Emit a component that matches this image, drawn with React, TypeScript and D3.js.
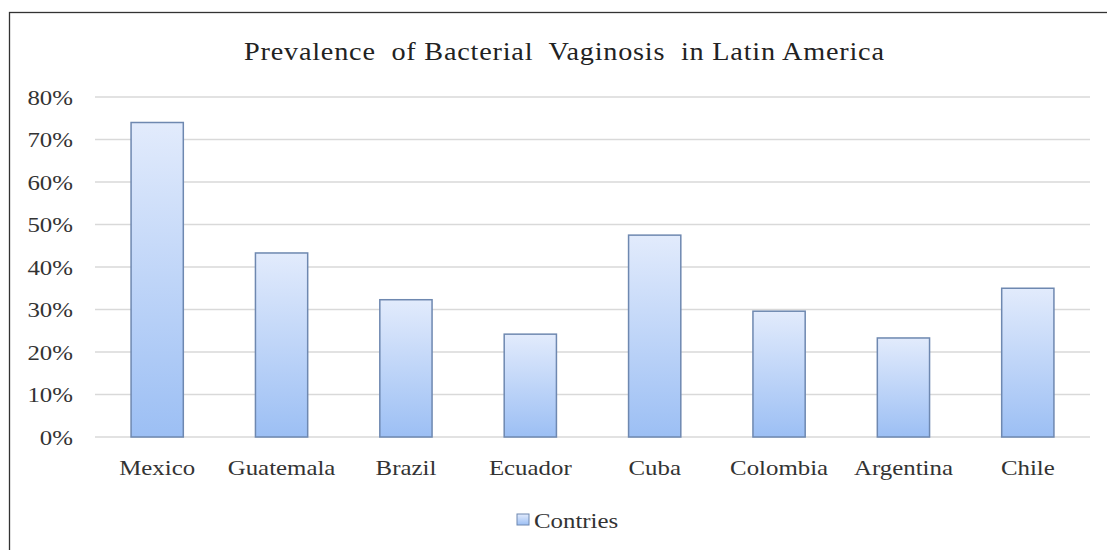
import React from "react";
import * as d3 from "d3";

const categories = ["Mexico", "Guatemala", "Brazil", "Ecuador", "Cuba", "Colombia", "Argentina", "Chile"];
const values = [0.74, 0.433, 0.323, 0.242, 0.475, 0.296, 0.233, 0.35];
const yTicks = [0, 0.1, 0.2, 0.3, 0.4, 0.5, 0.6, 0.7, 0.8];
const title = "Prevalence  of Bacterial  Vaginosis  in Latin America";
const legendLabel = "Contries";

const W = 1107;
const H = 550;
const M = { left: 95, right: 17, top: 97, bottom: 113 };
const SX = 1.13;

export default function App() {
  const x = d3.scaleBand().domain(categories).range([M.left, W - M.right]).paddingInner(0.58).paddingOuter(0.29);
  const y = d3.scaleLinear().domain([0, 0.8]).range([H - M.bottom, M.top]);
  const fmt = d3.format(".0%");
  const fontStyle: React.CSSProperties = { fontFamily: "'Liberation Serif', 'Times New Roman', serif", whiteSpace: "pre" };
  return (
    <svg width={W} height={H} style={{ position: "absolute", left: 0, top: 0, background: "#fff" }}>
      <defs>
        <linearGradient id="barGrad" x1="0" y1="0" x2="0" y2="1">
          <stop offset="0%" stopColor="#e2ebfc" />
          <stop offset="100%" stopColor="#9cbff4" />
        </linearGradient>
      </defs>
      <rect x={9.5} y={12.5} width={W + 10} height={H + 10} fill="#fff" stroke="#333" strokeWidth={1.3} />
      <g transform={`translate(564,60) scale(${SX},1)`}>
        <text x={0} y={0} textAnchor="middle" style={fontStyle} fontSize={25} fill="#222" textLength={640 / SX} lengthAdjust="spacing">
          {title}
        </text>
      </g>
      {yTicks.map((t) => (
        <g key={t}>
          <line x1={M.left} x2={W - M.right} y1={y(t)} y2={y(t)} stroke="#d9d9d9" strokeWidth={1.5} />
          <g transform={`translate(73,${y(t)}) scale(${SX},1)`}>
            <text x={0} y={0} dy="0.35em" textAnchor="end" style={fontStyle} fontSize={22} fill="#333">
              {fmt(t)}
            </text>
          </g>
        </g>
      ))}
      {categories.map((c, i) => (
        <g key={c}>
          <rect
            x={x(c)!}
            y={y(values[i])}
            width={x.bandwidth()}
            height={y(0) - y(values[i])}
            fill="url(#barGrad)"
            stroke="#6e88b0"
            strokeWidth={1.5}
          />
          <g transform={`translate(${x(c)! + x.bandwidth() / 2},467) scale(${SX},1)`}>
            <text x={0} y={0} dy="0.35em" textAnchor="middle" style={fontStyle} fontSize={22} fill="#333">
              {c}
            </text>
          </g>
        </g>
      ))}
      <rect x={517} y={514} width={12} height={11} fill="url(#barGrad)" stroke="#6e88b0" strokeWidth={1} />
      <g transform={`translate(534,520) scale(${SX},1)`}>
        <text x={0} y={0} dy="0.35em" style={fontStyle} fontSize={22} fill="#333">
          {legendLabel}
        </text>
      </g>
    </svg>
  );
}
